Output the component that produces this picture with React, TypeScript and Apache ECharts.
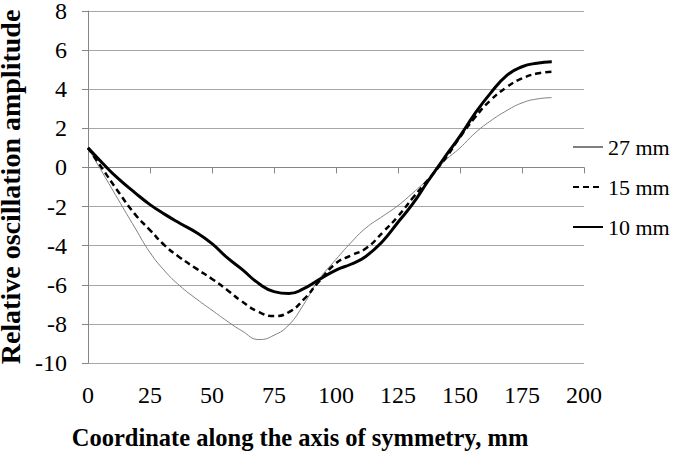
import React, { useEffect, useRef } from "react";
import * as echarts from "echarts";

const xValues = [0, 6, 12, 19, 25, 31, 37, 44, 50, 56, 62, 69, 75, 81, 87, 93, 100, 106, 112, 119, 125, 131, 137, 144, 150, 156, 162, 169, 175, 181, 187];
const s27 = [1.0, -0.3, -1.6, -3.1, -4.35, -5.3, -6.05, -6.75, -7.3, -7.85, -8.35, -8.8, -8.58, -8.05, -7.0, -5.75, -4.7, -3.85, -3.1, -2.48, -1.95, -1.3, -0.6, 0.35, 1.0, 1.75, 2.35, 2.92, 3.3, 3.5, 3.57];
const s15 = [1.0, -0.1, -1.2, -2.4, -3.2, -4.0, -4.6, -5.2, -5.7, -6.25, -6.85, -7.4, -7.6, -7.4, -6.75, -5.85, -4.9, -4.5, -4.15, -3.3, -2.5, -1.55, -0.65, 0.45, 1.55, 2.55, 3.4, 4.12, 4.55, 4.8, 4.9];
const s10 = [1.0, 0.2, -0.55, -1.3, -1.9, -2.4, -2.85, -3.35, -3.9, -4.6, -5.2, -5.95, -6.35, -6.45, -6.2, -5.75, -5.25, -4.95, -4.55, -3.75, -2.8, -1.85, -0.72, 0.55, 1.6, 2.75, 3.75, 4.72, 5.15, 5.33, 5.4];
const seriesNames = ["27 mm", "15 mm", "10 mm"];
const xTitle = "Coordinate along the axis of symmetry, mm";
const yTitle = "Relative oscillation amplitude";

const FONT = "Liberation Serif";

export default function App() {
  const ref = useRef<HTMLDivElement>(null);
  useEffect(() => {
    if (!ref.current) return;
    const chart = echarts.init(ref.current, null, { renderer: "svg" });
    const pairs = (ys: number[]) => xValues.map((x, i) => [x, ys[i]]);
    const tickRich = { t: { fontFamily: FONT, fontSize: 24, color: "#000" } };
    chart.setOption({
      animation: false,
      backgroundColor: "#ffffff",
      grid: { left: 88, right: 90, top: 11, bottom: 91, containLabel: false, outerBoundsMode: "none" },
      legend: {
        orient: "vertical",
        left: 567,
        top: 131,
        itemWidth: 30,
        itemHeight: 14,
        itemGap: 18,
        itemStyle: { opacity: 0 },
        formatter: (name: string) => `{l|${name}}`,
        textStyle: {
          fontFamily: FONT,
          fontSize: 22,
          color: "#000",
          rich: { l: { fontFamily: FONT, fontSize: 22, color: "#000", lineHeight: 24 } },
        },
        data: seriesNames,
      },
      xAxis: {
        type: "value",
        min: 0,
        max: 200,
        interval: 25,
        name: `{n|${xTitle}}`,
        nameLocation: "middle",
        nameGap: 62,
        nameTextStyle: {
          fontFamily: FONT,
          fontSize: 24.5,
          fontWeight: "bold",
          color: "#000",
          verticalAlign: "top",
          padding: [0, 72, 0, 0],
          rich: { n: { fontFamily: FONT, fontSize: 24.5, fontWeight: "bold", color: "#000" } },
        },
        axisLine: { show: true, lineStyle: { color: "#868686", width: 1 } },
        axisTick: { show: true, length: 6, lineStyle: { color: "#868686" } },
        axisLabel: {
          fontFamily: FONT,
          fontSize: 24,
          color: "#000",
          margin: 20,
          formatter: (v: number) => `{t|${v}}`,
          rich: tickRich,
        },
        splitLine: { show: false },
      },
      yAxis: {
        type: "value",
        min: -10,
        max: 8,
        interval: 2,
        name: `{n|${yTitle}}`,
        nameLocation: "middle",
        nameRotate: 90,
        nameGap: 63,
        nameTextStyle: {
          fontFamily: FONT,
          fontSize: 28,
          fontWeight: "bold",
          color: "#000",
          rich: { n: { fontFamily: FONT, fontSize: 28, fontWeight: "bold", color: "#000" } },
        },
        axisLine: { show: true, lineStyle: { color: "#868686", width: 1 } },
        axisTick: { show: true, length: 6, lineStyle: { color: "#868686" } },
        axisLabel: {
          fontFamily: FONT,
          fontSize: 24,
          color: "#000",
          margin: 21,
          formatter: (v: number) => `{t|${v}}`,
          rich: tickRich,
        },
        splitLine: { show: true, lineStyle: { color: "#a6a6a6", width: 1 } },
      },
      series: [
        { name: seriesNames[0], type: "line", data: pairs(s27), smooth: true, symbol: "none", lineStyle: { color: "#7f7f7f", width: 1 }, itemStyle: { color: "#7f7f7f" }, z: 3 },
        { name: seriesNames[1], type: "line", data: pairs(s15), smooth: true, symbol: "none", lineStyle: { color: "#000", width: 2.5, type: [6, 4] }, itemStyle: { color: "#000" }, z: 4 },
        { name: seriesNames[2], type: "line", data: pairs(s10), smooth: true, symbol: "none", lineStyle: { color: "#000", width: 3 }, itemStyle: { color: "#000" }, z: 5 },
      ],
    });
    return () => chart.dispose();
  }, []);
  return <div ref={ref} style={{ width: 674, height: 454, position: "absolute", left: 0, top: 0 }} />;
}
